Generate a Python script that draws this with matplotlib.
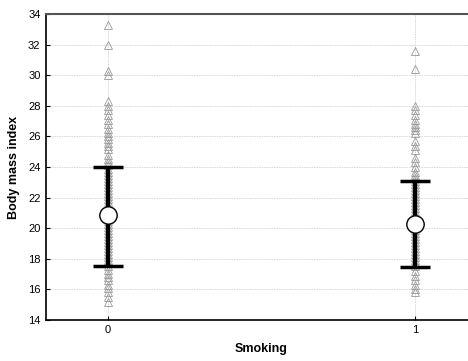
import matplotlib
matplotlib.use("Agg")
import matplotlib.pyplot as plt

plt.rcParams['font.family'] = ['Liberation Sans', 'DejaVu Sans']

groups = [0, 1]
group_labels = ["0", "1"]
means = [20.85, 20.25]
upper = [23.97, 23.07]
lower = [17.53, 17.45]

bmi_0 = [33.3, 32.0, 30.3, 30.0, 28.3, 28.0, 27.7, 27.4, 27.1, 26.8, 26.5, 26.2,
         26.0, 25.8, 25.6, 25.4, 25.2, 24.8, 24.5, 24.3, 24.1, 23.9, 23.7, 23.5,
         23.3, 23.1, 22.9, 22.7, 22.5, 22.3, 22.1, 21.9, 21.7, 21.5, 21.3, 21.1,
         20.9, 20.7, 20.5, 20.3, 20.1, 19.9, 19.7, 19.5, 19.3, 19.1, 18.9, 18.7,
         18.5, 18.3, 18.1, 17.9, 17.7, 17.5, 17.3, 17.0, 16.8, 16.6, 16.3, 16.1,
         15.8, 15.5, 15.2]
bmi_1 = [31.6, 30.4, 28.0, 27.7, 27.4, 27.1, 26.8, 26.6, 26.4, 26.2, 25.7, 25.4,
         25.1, 24.6, 24.3, 24.0, 23.7, 23.5, 23.3, 23.1, 22.9, 22.7, 22.5, 22.3,
         22.1, 21.9, 21.7, 21.5, 21.3, 21.1, 20.9, 20.7, 20.5, 20.3, 20.1, 19.9,
         19.7, 19.5, 19.3, 19.1, 18.9, 18.7, 18.5, 18.3, 18.1, 17.9, 17.7, 17.5,
         17.2, 16.9, 16.6, 16.3, 16.0, 15.8]
yticks = [14, 16, 18, 20, 22, 24, 26, 28, 30, 32, 34]

fig = plt.figure(figsize=(4.68, 3.61), dpi=100)
ax = fig.add_axes([46/468, 41/361, (477-46)/468, (347-41)/361])

ax.set_xlim(-0.2, 1.2)
ax.set_ylim(14, 34)
ax.set_yticks(yticks)
ax.set_xticks(groups)
ax.set_xticklabels(group_labels)

ax.grid(True, color='#d6d6d6', linestyle=(0, (2, 1)), linewidth=0.6)
ax.set_axisbelow(True)

for g, vals in zip(groups, [bmi_0, bmi_1]):
    ax.plot([g]*len(vals), vals, linestyle='none', marker='^', markersize=5.5,
            markerfacecolor='none', markeredgecolor='#999999', markeredgewidth=0.6, zorder=2)

for g, m, u, l in zip(groups, means, upper, lower):
    ax.errorbar([g], [m], yerr=[[m - l], [u - m]], fmt='none', ecolor='black',
                elinewidth=3, capsize=11, capthick=2.5, zorder=3)
    ax.plot([g], [m], marker='o', markersize=12.5, markerfacecolor='white',
            markeredgecolor='black', markeredgewidth=1, zorder=4, linestyle='none')

for s in ['left', 'bottom']:
    ax.spines[s].set_color('black')
    ax.spines[s].set_linewidth(1.2)
ax.spines['top'].set_color('#555555')
ax.spines['top'].set_linewidth(1.5)
ax.spines['right'].set_visible(False)

ax.tick_params(axis='both', labelsize=8, direction='in', length=3, width=0.8)
ax.tick_params(axis='y', pad=4)
ax.set_ylabel('Body mass index', fontsize=9, fontweight='bold', labelpad=6)
ax.set_xlabel('Smoking', fontsize=9, fontweight='bold', labelpad=6)

fig.savefig('out.png', dpi=100)
